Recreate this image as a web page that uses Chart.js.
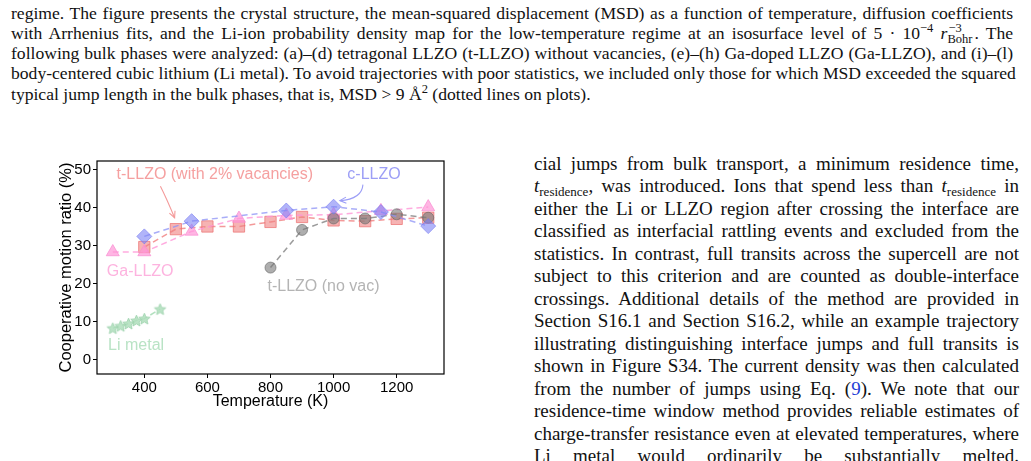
<!DOCTYPE html>
<html><head><meta charset="utf-8">
<script src="https://cdn.jsdelivr.net/npm/chart.js@4/dist/chart.umd.min.js"></script>
<style>
html,body{margin:0;padding:0;background:#fff;}
body{width:1031px;height:461px;overflow:hidden;position:relative;font-family:"Liberation Serif","Times New Roman",serif;color:#111;}
.ln{position:absolute;white-space:nowrap;text-align:justify;text-align-last:justify;}
.cap{left:11px;width:1002px;font-size:17.6px;line-height:20.3px;}
.bd{left:534px;width:485px;font-size:19px;line-height:22.5px;}
.left{text-align-last:left;}
.sp{font-size:12.5px;position:relative;top:-7px;line-height:0;}
.sb{font-size:13px;position:relative;top:3.5px;line-height:0;}
.stk{display:inline-block;position:relative;width:27px;height:1px;}
.stk .u{position:absolute;left:1px;top:-16px;font-size:12.5px;line-height:12px;}
.stk .d{position:absolute;left:0;top:-5px;font-size:12.5px;line-height:12px;}
.ref{color:#1f3fd6;}
#chartbox{position:absolute;left:0;top:150px;width:460px;height:270px;}
</style></head>
<body>
<div class="ln cap" style="top:2.5px">regime. The figure presents the crystal structure, the mean-squared displacement (MSD) as a function of temperature, diffusion coefficients</div>
<div class="ln cap" style="top:22.8px">with Arrhenius fits, and the Li-ion probability density map for the low-temperature regime at an isosurface level of 5 · 10<span class="sp">−4</span> <i>r</i><span class="stk"><span class="u">−3</span><span class="d">Bohr</span></span>. The</div>
<div class="ln cap" style="top:43.1px">following bulk phases were analyzed: (a)–(d) tetragonal LLZO (t-LLZO) without vacancies, (e)–(h) Ga-doped LLZO (Ga-LLZO), and (i)–(l)</div>
<div class="ln cap" style="top:63.4px">body-centered cubic lithium (Li metal). To avoid trajectories with poor statistics, we included only those for which MSD exceeded the squared</div>
<div class="ln cap left" style="top:83.7px">typical jump length in the bulk phases, that is, MSD &gt; 9 Å<span class="sp">2</span> (dotted lines on plots).</div>

<div class="ln bd" style="top:152.7px">cial jumps from bulk transport, a minimum residence time,</div>
<div class="ln bd" style="top:175.2px"><i>t</i><span class="sb">residence</span>, was introduced. Ions that spend less than <i>t</i><span class="sb">residence</span> in</div>
<div class="ln bd" style="top:197.7px">either the Li or LLZO region after crossing the interface are</div>
<div class="ln bd" style="top:220.2px">classified as interfacial rattling events and excluded from the</div>
<div class="ln bd" style="top:242.7px">statistics. In contrast, full transits across the supercell are not</div>
<div class="ln bd" style="top:265.2px">subject to this criterion and are counted as double-interface</div>
<div class="ln bd" style="top:287.7px">crossings. Additional details of the method are provided in</div>
<div class="ln bd" style="top:310.2px">Section S16.1 and Section S16.2, while an example trajectory</div>
<div class="ln bd" style="top:332.7px">illustrating distinguishing interface jumps and full transits is</div>
<div class="ln bd" style="top:355.2px">shown in Figure S34. The current density was then calculated</div>
<div class="ln bd" style="top:377.7px">from the number of jumps using Eq. (<span class="ref">9</span>). We note that our</div>
<div class="ln bd" style="top:400.2px">residence-time window method provides reliable estimates of</div>
<div class="ln bd" style="top:422.7px">charge-transfer resistance even at elevated temperatures, where</div>
<div class="ln bd" style="top:445.2px">Li metal would ordinarily be substantially melted.</div>

<div id="chartbox"><canvas id="c" width="460" height="270"></canvas></div>

<script>
// ---- data ----
const tempsVac   = [400, 500, 600, 700, 800, 900, 1000, 1100, 1200, 1300];
const ratioVac   = [29.6, 34.3, 35.0, 35.0, 36.2, 37.5, 36.6, 36.4, 37.0, 37.3];
const tempsCubic = [400, 550, 850, 1000, 1150, 1300];
const ratioCubic = [32.4, 36.4, 39.2, 40.2, 38.8, 35.1];
const tempsGa    = [300, 400, 550, 700, 850, 1000, 1150, 1300];
const ratioGa    = [28.3, 28.3, 33.7, 37.1, 37.9, 38.1, 39.1, 40.1];
const tempsNoVac = [800, 900, 1000, 1100, 1200, 1300];
const ratioNoVac = [24.2, 34.1, 37.1, 37.1, 38.2, 37.3];
const tempsLi    = [300, 325, 350, 375, 400, 450];
const ratioLi    = [8.3, 8.9, 9.5, 10.3, 10.8, 13.3];
const xTicks = [400, 600, 800, 1000, 1200];
const yTicks = [0, 10, 20, 30, 40, 50];
const xLabel = 'Temperature (K)';
const yLabel = 'Cooperative motion ratio (%)';
const labels = [
  {text: 't-LLZO (with 2% vacancies)', x: 312, y: 48.6, color: '#f5a0a0', align: 'left'},
  {text: 'c-LLZO', x: 1128, y: 48.6, color: '#9c9ef6', align: 'center'},
  {text: 'Ga-LLZO', x: 387, y: 23.2, color: '#fdb3df', align: 'center'},
  {text: 't-LLZO (no vac)', x: 968, y: 19.1, color: '#b4b4b4', align: 'center'},
  {text: 'Li metal', x: 374, y: 3.7, color: '#b9e3c5', align: 'center'}
];
// arrows: start, control, end (data coords)
const arrows = [
  {from: [451, 45.6], ctrl: [470, 42.5], to: [496, 37.3], color: '#f49a9a'},
  {from: [1093, 46.0], ctrl: [1090, 42.2], to: [1020, 41.8], color: '#9c9ef6'}
];

const FONT = '"Liberation Sans", Arial, Helvetica, sans-serif';
const mk = (xs, ys) => xs.map((x, i) => ({x: x, y: ys[i]}));

function starImage(r, fill, stroke) {
  const s = Math.ceil(r * 2 + 3);
  const c = document.createElement('canvas');
  c.width = s; c.height = s;
  const g = c.getContext('2d');
  g.beginPath();
  for (let i = 0; i < 10; i++) {
    const a = -Math.PI / 2 + i * Math.PI / 5;
    const rr = (i % 2) ? r * 0.45 : r;
    g.lineTo(s / 2 + rr * Math.cos(a), s / 2 + 0.6 + rr * Math.sin(a));
  }
  g.closePath();
  g.fillStyle = fill; g.fill();
  g.lineWidth = 1; g.strokeStyle = stroke; g.stroke();
  return c;
}

const annotPlugin = {
  id: 'annot',
  afterDatasetsDraw(chart) {
    const {ctx, scales: {x, y}} = chart;
    ctx.save();
    ctx.font = '16px ' + FONT;
    ctx.textBaseline = 'middle';
    labels.forEach(l => {
      ctx.fillStyle = l.color;
      ctx.textAlign = l.align;
      ctx.fillText(l.text, x.getPixelForValue(l.x), y.getPixelForValue(l.y));
    });
    arrows.forEach(ar => {
      const p0 = [x.getPixelForValue(ar.from[0]), y.getPixelForValue(ar.from[1])];
      const pc = [x.getPixelForValue(ar.ctrl[0]), y.getPixelForValue(ar.ctrl[1])];
      const p1 = [x.getPixelForValue(ar.to[0]), y.getPixelForValue(ar.to[1])];
      ctx.strokeStyle = ar.color; ctx.lineWidth = 1.1;
      ctx.beginPath(); ctx.moveTo(p0[0], p0[1]);
      ctx.quadraticCurveTo(pc[0], pc[1], p1[0], p1[1]); ctx.stroke();
      const ang = Math.atan2(p1[1] - pc[1], p1[0] - pc[0]);
      const L = 7, w = 0.45;
      ctx.beginPath();
      ctx.moveTo(p1[0] - L * Math.cos(ang - w), p1[1] - L * Math.sin(ang - w));
      ctx.lineTo(p1[0], p1[1]);
      ctx.lineTo(p1[0] - L * Math.cos(ang + w), p1[1] - L * Math.sin(ang + w));
      ctx.stroke();
    });
    ctx.restore();
  },
  afterDraw(chart) {
    const {ctx, chartArea: a} = chart;
    ctx.save();
    ctx.strokeStyle = '#000'; ctx.lineWidth = 1.2;
    ctx.strokeRect(a.left, a.top, a.right - a.left, a.bottom - a.top);
    ctx.restore();
  }
};

const dash = [6, 4];
const datasets = [
  {label: 'Li metal', data: mk(tempsLi, ratioLi), showLine: true,
   borderColor: 'rgba(165,218,180,0.85)', borderDash: dash, borderWidth: 1.5,
   pointStyle: starImage(6, 'rgba(175,222,188,0.85)', 'rgba(160,212,175,0.9)'), pointRadius: 6},
  {label: 'c-LLZO', data: mk(tempsCubic, ratioCubic), showLine: true,
   borderColor: 'rgba(140,145,245,0.75)', borderDash: dash, borderWidth: 1.5,
   pointStyle: 'rectRot', pointRadius: 7.5,
   pointBackgroundColor: 'rgba(125,130,245,0.6)', pointBorderColor: 'rgba(115,120,240,0.6)', pointBorderWidth: 1},
  {label: 't-LLZO (no vac)', data: mk(tempsNoVac, ratioNoVac), showLine: true,
   borderColor: 'rgba(130,130,130,0.8)', borderDash: dash, borderWidth: 1.5,
   pointStyle: 'circle', pointRadius: 5.5,
   pointBackgroundColor: 'rgba(120,120,120,0.6)', pointBorderColor: 'rgba(100,100,100,0.6)', pointBorderWidth: 1},
  {label: 'Ga-LLZO', data: mk(tempsGa, ratioGa), showLine: true,
   borderColor: 'rgba(255,150,215,0.8)', borderDash: dash, borderWidth: 1.5,
   pointStyle: 'triangle', pointRadius: 7.5,
   pointBackgroundColor: 'rgba(255,150,215,0.7)', pointBorderColor: 'rgba(250,140,210,0.7)', pointBorderWidth: 1},
  {label: 't-LLZO (with 2% vacancies)', data: mk(tempsVac, ratioVac), showLine: true,
   borderColor: 'rgba(240,128,128,0.8)', borderDash: dash, borderWidth: 1.5,
   pointStyle: 'rect', pointRadius: 8,
   pointBackgroundColor: 'rgba(240,128,128,0.6)', pointBorderColor: 'rgba(235,110,110,0.7)', pointBorderWidth: 1}
];

new Chart(document.getElementById('c'), {
  type: 'scatter',
  data: {datasets: datasets},
  options: {
    responsive: false, animation: false, devicePixelRatio: 1, events: [],
    layout: {padding: {top: 6, right: 16, left: 0, bottom: 0}},
    plugins: {legend: {display: false}, tooltip: {enabled: false}},
    scales: {
      x: {
        type: 'linear', min: 250, max: 1350,
        afterBuildTicks: s => { s.ticks = xTicks.map(v => ({value: v})); },
        afterFit: s => { s.height = 46; },
        grid: {display: true, drawOnChartArea: false, drawTicks: true, tickLength: 4, color: '#000', lineWidth: 1},
        border: {display: false},
        ticks: {color: '#000', font: {family: FONT, size: 15}, padding: 1, maxRotation: 0, autoSkip: false,
                callback: v => String(v)},
        title: {display: true, text: xLabel, color: '#000', font: {family: FONT, size: 16}, padding: {top: 0, bottom: 8.4}}
      },
      y: {
        type: 'linear', min: -3.75, max: 52.2,
        afterBuildTicks: s => { s.ticks = yTicks.map(v => ({value: v})); },
        afterFit: s => { s.width = 97; },
        grid: {display: true, drawOnChartArea: false, drawTicks: true, tickLength: 4, color: '#000', lineWidth: 1},
        border: {display: false},
        ticks: {color: '#000', font: {family: FONT, size: 15}, padding: 2, autoSkip: false,
                callback: v => String(v)},
        title: {display: true, text: yLabel, color: '#000', font: {family: FONT, size: 16.5}, padding: {top: 56.1, bottom: 0}}
      }
    }
  },
  plugins: [annotPlugin]
});
</script>
</body></html>
